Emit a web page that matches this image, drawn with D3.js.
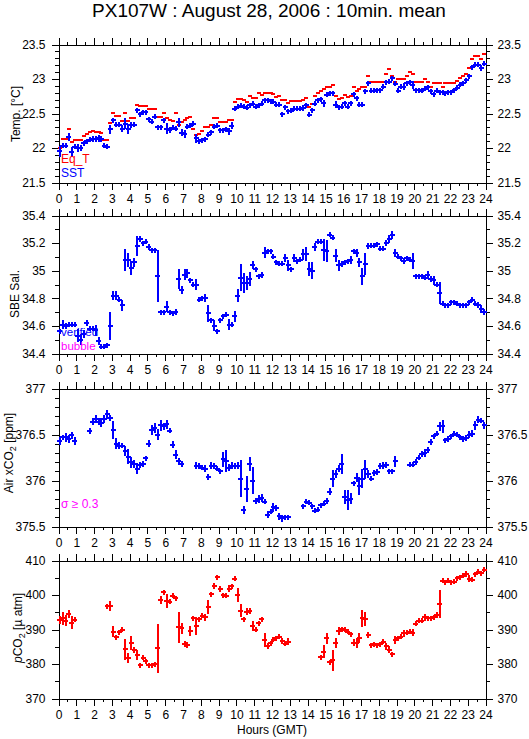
<!DOCTYPE html>
<html>
<head>
<meta charset="utf-8">
<script src="https://cdn.jsdelivr.net/npm/d3@7"></script>
<style>
body { margin: 0; background: #fff; }
text { font-family: "Liberation Sans", Arial, sans-serif; }
</style>
</head>
<body>
<div id="chart"></div>
<script>
// --> DATA: 10 minute means, 6 per hour (one row = one hour)
var hours = d3.range(0, 25);

var sst = [
 21.95,22.03,22.03,22.16,21.94,22.02, 22.00,22.00,22.07,22.10,22.12,22.13,
 22.13,22.14,22.13,22.03,22.02,22.27, 22.40,22.34,22.34,22.28,22.35,22.28,
 22.33,22.34,22.55,22.49,22.52,22.52, 22.42,22.38,22.45,22.30,22.30,22.40,
 22.28,22.26,22.29,22.28,22.37,22.22, 22.20,22.31,22.32,22.35,22.14,22.10,
 22.11,22.13,22.19,22.23,22.31,22.32, 22.26,22.26,22.27,22.24,22.32,22.57,
 22.60,22.61,22.60,22.58,22.62,22.64, 22.60,22.62,22.64,22.69,22.69,22.68,
 22.67,22.63,22.63,22.49,22.59,22.53, 22.54,22.57,22.57,22.57,22.58,22.62,
 22.48,22.55,22.64,22.69,22.71,22.65, 22.77,22.79,22.79,22.63,22.59,22.60,
 22.65,22.60,22.65,22.78,22.72,22.63, 22.63,22.82,22.94,22.83,22.83,22.84,
 22.84,22.89,22.95,22.96,23.01,22.93, 22.83,22.89,22.89,22.94,22.95,22.91,
 22.84,22.84,22.83,22.86,22.88,22.82, 22.78,22.83,22.81,22.81,22.79,22.81,
 22.81,22.84,22.87,22.92,22.94,22.98, 23.04,23.17,23.21,23.21,23.16,23.22
];
var sstErr = [
 .08,.03,.03,.06,.07,.03, .06,.05,.03,.03,.04,.05, .05,.05,.04,.02,.02,.06, .04,.02,.02,.05,.08,.07,
 .04,.03,.03,.02,.03,.02, .03,.03,.02,.02,.02,.03, .08,.04,.02,.03,.07,.05, .06,.03,.02,.02,.07,.02,
 .02,.03,.03,.02,.03,.02, .02,.02,.04,.05,.05,.04, .03,.02,.02,.03,.03,.03, .02,.02,.02,.02,.02,.02,
 .02,.02,.02,.03,.04,.03, .03,.03,.04,.04,.04,.03, .03,.03,.02,.02,.02,.05, .03,.02,.02,.05,.03,.02,
 .03,.02,.03,.02,.03,.03, .04,.04,.03,.02,.02,.02, .02,.02,.03,.03,.03,.03, .03,.04,.05,.03,.03,.06,
 .02,.02,.02,.02,.02,.02, .02,.03,.02,.02,.02,.02, .02,.02,.02,.02,.02,.02, .03,.03,.02,.02,.04,.03
];
var eqT = [
 22.00,22.13,22.13,22.27,22.08,22.12, 22.12,22.12,22.17,22.21,22.23,22.24,
 22.23,22.23,22.22,22.12,22.12,22.36, 22.51,22.46,22.46,22.39,22.51,22.39,
 22.44,22.43,22.63,22.61,22.61,22.61, 22.56,22.56,22.56,22.45,22.45,22.51,
 22.44,22.41,22.39,22.51,22.33,22.37, 22.41,22.43,22.45,22.27,22.19,22.20,
 22.24,22.30,22.30,22.34,22.43,22.43, 22.38,22.38,22.38,22.40,22.40,22.67,
 22.71,22.71,22.69,22.67,22.75,22.73, 22.72,22.79,22.77,22.80,22.80,22.80,
 22.78,22.74,22.76,22.70,22.70,22.65, 22.68,22.68,22.68,22.68,22.70,22.73,
 22.60,22.64,22.76,22.79,22.82,22.85, 22.88,22.88,22.91,22.76,22.71,22.72,
 22.77,22.74,22.75,22.88,22.82,22.85, 22.88,22.88,23.04,22.95,22.96,22.96,
 22.96,22.95,23.07,23.15,23.04,22.95, 23.00,23.00,23.00,23.04,23.10,23.07,
 22.95,22.95,22.96,23.00,22.95,22.88, 22.94,22.94,22.94,22.89,22.94,22.94,
 22.94,22.94,22.97,23.01,23.04,23.07, 23.16,23.29,23.34,23.34,23.29,23.36
];

var sal = [
 34.56,34.61,34.60,34.61,34.61,34.61, 34.53,34.50,34.54,34.62,34.58,34.58,
 34.57,34.49,34.45,34.45,34.46,34.60, 34.82,34.82,34.79,34.75,35.08,35.08,
 35.02,35.06,35.18,35.23,35.20,35.21, 35.17,35.15,35.15,34.96,34.70,34.70,
 34.74,34.70,34.69,34.70,34.94,34.86, 34.97,34.98,34.93,34.90,34.90,34.79,
 34.80,34.80,34.69,34.64,34.60,34.56, 34.64,34.67,34.68,34.61,34.61,34.67,
 34.82,34.95,34.91,34.91,34.94,35.04, 35.01,34.96,34.97,35.13,35.14,35.14,
 35.10,35.06,35.05,35.05,35.09,35.04, 35.01,35.09,35.07,35.08,35.12,35.12,
 35.01,35.00,35.17,35.21,35.21,35.15, 35.14,35.26,35.24,35.11,35.04,35.05,
 35.06,35.07,35.08,35.14,35.13,35.06, 34.96,35.05,35.18,35.18,35.18,35.19,
 35.16,35.16,35.20,35.23,35.26,35.13, 35.10,35.09,35.07,35.09,35.08,35.07,
 34.96,34.96,34.96,34.95,34.97,34.94, 34.93,34.90,34.84,34.76,34.75,34.75,
 34.77,34.77,34.76,34.75,34.75,34.75, 34.77,34.79,34.76,34.75,34.72,34.70
];
var salErr = [
 .02,.03,.02,.02,.02,.02, .05,.04,.03,.02,.02,.02, .04,.03,.02,.01,.01,.10, .03,.03,.01,.04,.08,.05,
 .05,.03,.07,.02,.01,.01, .02,.01,.01,.19,.01,.01, .04,.01,.01,.02,.07,.03, .04,.03,.01,.02,.04,.01,
 .01,.03,.06,.02,.04,.02, .01,.01,.01,.04,.01,.04, .05,.10,.07,.05,.05,.03, .02,.01,.02,.04,.01,.01,
 .01,.02,.01,.01,.03,.04, .01,.03,.01,.01,.04,.05, .05,.06,.03,.01,.01,.08, .08,.01,.02,.05,.04,.02,
 .01,.01,.03,.02,.03,.03, .06,.08,.02,.01,.01,.01, .01,.01,.02,.03,.03,.03, .01,.01,.02,.02,.02,.06,
 .01,.01,.01,.02,.03,.02, .03,.01,.08,.01,.01,.01, .01,.01,.01,.01,.01,.01, .02,.02,.01,.02,.03,.02
];

var airCO2 = [
 376.43,376.47,376.47,376.45,376.49,376.43, null,null,null,null,376.54,376.64,
 376.67,376.64,376.63,376.67,376.72,376.68, 376.55,376.40,376.38,376.38,376.32,376.26,
 376.20,376.18,376.13,376.17,376.18,376.24, 376.40,376.55,376.57,376.50,376.60,376.59,
 376.61,376.54,376.39,376.28,376.21,376.18, null,null,null,null,376.16,376.16,
 376.14,376.13,376.04,376.16,376.16,376.13, 376.10,376.23,376.21,376.14,376.16,376.16,
 376.16,376.02,375.68,375.91,376.18,376.00, 375.78,375.80,375.81,375.77,375.63,375.66,
 375.71,375.70,375.61,375.59,375.60,375.60, null,null,null,null,375.72,375.77,
 375.76,375.72,375.67,375.68,375.73,375.75, 375.78,375.88,376.02,376.07,376.13,376.18,
 375.82,375.79,375.80,375.97,376.03,375.94, 376.02,376.12,376.07,376.02,376.08,376.09,
 376.16,376.16,376.17,376.10,376.10,376.21, null,null,null,null,376.17,376.17,
 376.20,376.25,376.29,376.30,376.33,376.42, 376.48,376.51,376.59,376.59,376.44,376.45,
 376.48,376.51,376.50,376.47,376.45,376.46, 376.50,376.51,376.60,376.66,376.65,376.60
];
var airCO2Err = [
 .04,.03,.05,.04,.04,.04, 0,0,0,0,.03,.04, .04,.04,.05,.04,.05,.03, .10,.06,.04,.03,.05,.08,
 .06,.04,.06,.03,.03,.03, .04,.05,.05,.06,.06,.04, .05,.02,.04,.05,.04,.03, 0,0,0,0,.04,.03,
 .03,.04,.03,.04,.03,.03, .03,.08,.12,.04,.04,.03, .04,.20,.04,.14,.08,.15, .03,.04,.04,.03,.04,.02,
 .05,.03,.04,.04,.03,.03, 0,0,0,0,.03,.03, .03,.03,.02,.02,.03,.03, .03,.04,.09,.04,.04,.11,
 .08,.11,.06,.03,.05,.10, .10,.10,.04,.03,.03,.03, .03,.04,.03,.03,.03,.06, 0,0,0,0,.02,.02,
 .03,.03,.03,.04,.03,.03, .03,.03,.05,.07,.02,.03, .03,.02,.02,.03,.03,.03, .04,.04,.05,.04,.03,.04
];

var pCO2 = [
 392.8,393.2,392.6,394.5,392.0,392.8, null,null,null,null,null,null,
 null,null,null,null,396.8,396.8, 389.4,387.7,389.2,389.9,384.3,381.8,
 386.0,384.0,382.6,379.7,381.8,380.8, 379.7,379.7,379.9,384.5,398.6,400.8,
 398.3,398.1,399.8,399.1,390.6,390.3, 385.8,385.5,389.6,393.2,391.0,393.0,
 394.0,393.5,396.6,400.2,402.6,405.1, 401.7,400.0,399.8,401.8,402.6,404.7,
 400.0,395.5,393.0,395.2,395.4,391.0, 390.0,391.8,393.0,386.9,385.2,386.0,
 387.1,387.4,387.9,386.7,385.8,386.5, null,null,null,null,null,null,
 null,null,null,null,381.9,383.6, 387.4,380.5,381.1,386.0,389.6,390.1,
 389.9,389.4,388.6,386.2,386.0,387.6, 393.2,393.0,388.4,385.5,385.7,385.5,
 385.7,386.5,385.2,384.2,382.8,386.9, 387.4,387.9,388.9,389.1,389.4,389.1,
 391.6,392.5,392.5,393.5,393.2,393.2, 393.5,394.2,397.4,404.1,403.7,404.1,
 403.7,403.9,404.9,405.1,405.6,406.1, 404.7,404.4,406.0,406.8,406.3,407.3
];
var pCO2Err = [
 1.2,1.8,1.5,1.2,1.8,0.6, 0,0,0,0,0,0, 0,0,0,0,0.6,1.5, 1.5,0.8,0.4,0.6,3,1.5,
 2,0.8,1.5,0.4,0.4,0.4, 0.4,0.4,0.4,7,1.2,0.4, 2,0.8,0.5,0.6,4.5,1.5, 1,1,1.5,0.6,2.5,0.5,
 0.8,1,2,0.5,1,0.4, 0.8,0.5,0.4,1,0.4,0.6, 2,2,0.5,1,0.8,1.5, 0.4,0.4,0.4,2,0.8,0.6,
 0.4,0.4,0.4,0.8,0.4,1, 0,0,0,0,0,0, 0,0,0,0,0.4,2, 1.5,0.6,3,1.5,1.2,0.6,
 0.4,0.6,0.6,1,1.5,1.5, 2.5,2,1,0.4,0.4,0.4, 0.4,0.6,1,1,0.6,1.2, 0.6,0.6,1,0.4,0.4,1,
 0.6,0.4,0.4,1,0.6,0.6, 0.6,1,4,0.4,0.4,0.4, 0.4,0.4,0.6,0.6,0.4,1, 1,0.6,0.8,0.8,0.8,0.6
];

// --> SVG
var width = 529;
var height = 739;
var svg = d3.select("#chart").append("svg")
  .attr("width", width)
  .attr("height", height);

var x = d3.scaleLinear().domain([0, 24]).range([58.5, 485.5]);
function tx(i) { return x((i + 0.5) / 6); }

function steps(lo, hi, st) {
  var n = Math.round((hi - lo) / st);
  return d3.range(n + 1).map(function(k){ return +(lo + k * st).toFixed(3); });
}
function fmt(d) { return String(+d.toFixed(2)); }

var panels = [
  { top: 44.5,  domain: [21.5, 23.5], major: 0.5, minor: 0.1 },
  { top: 215.5, domain: [34.4, 35.4], major: 0.2, minor: 0.1 },
  { top: 388.5, domain: [375.5, 377], major: 0.5, minor: 0.1 },
  { top: 560.5, domain: [370, 410],   major: 10,  minor: 5 }
];
var ph = 138;

panels.forEach(function(p) {
  p.y = d3.scaleLinear().domain(p.domain).range([p.top + ph, p.top]);
  var g = svg.append("g");
  var majors = steps(p.domain[0], p.domain[1], p.major);
  var minors = steps(p.domain[0], p.domain[1], p.minor);

  // x axes
  g.append("g").attr("transform", "translate(0," + (p.top + ph) + ")")
    .call(d3.axisBottom(x).tickValues(steps(0, 24, 0.5)).tickSize(3).tickSizeOuter(0).tickFormat(""));
  g.append("g").attr("transform", "translate(0," + (p.top + ph) + ")")
    .call(d3.axisBottom(x).tickValues(hours).tickSize(7).tickSizeOuter(0).tickPadding(5).tickFormat(d3.format("d")));
  g.append("g").attr("transform", "translate(0," + p.top + ")")
    .call(d3.axisTop(x).tickValues(steps(0, 24, 0.5)).tickSize(3).tickSizeOuter(0).tickFormat(""));
  g.append("g").attr("transform", "translate(0," + p.top + ")")
    .call(d3.axisTop(x).tickValues(hours).tickSize(7).tickSizeOuter(0).tickFormat(""));

  // y axes
  g.append("g").attr("transform", "translate(" + x(0) + ",0)")
    .call(d3.axisLeft(p.y).tickValues(minors).tickSize(4).tickSizeOuter(0).tickFormat(""));
  g.append("g").attr("transform", "translate(" + x(0) + ",0)")
    .call(d3.axisLeft(p.y).tickValues(majors).tickSize(7).tickSizeOuter(0).tickPadding(6).tickFormat(fmt));
  g.append("g").attr("transform", "translate(" + x(24) + ",0)")
    .call(d3.axisRight(p.y).tickValues(minors).tickSize(4).tickSizeOuter(0).tickFormat(""));
  g.append("g").attr("transform", "translate(" + x(24) + ",0)")
    .call(d3.axisRight(p.y).tickValues(majors).tickSize(7).tickSizeOuter(0).tickPadding(5).tickFormat(fmt));

  g.selectAll("text").attr("font-size", 12).attr("font-family", '"Liberation Sans", Arial, sans-serif').attr("fill", "#000");
  g.selectAll("path, line").attr("stroke", "#000").attr("shape-rendering", "crispEdges");
});

// --> MARKS
function dashes(vals, y, color, hw) {
  var pts = vals.map(function(v, i){ return { i: i, v: v }; }).filter(function(d){ return d.v != null; });
  svg.append("g").selectAll("line").data(pts).enter().append("line")
    .attr("x1", function(d){ return tx(d.i) - hw; })
    .attr("x2", function(d){ return tx(d.i) + hw; })
    .attr("y1", function(d){ return Math.round(y(d.v)); })
    .attr("y2", function(d){ return Math.round(y(d.v)); })
    .attr("stroke", color).attr("stroke-width", 2)
    .attr("shape-rendering", "crispEdges");
}
function crosses(vals, errs, y, color) {
  dashes(vals, y, color, 2.5);
  var pts = vals.map(function(v, i){ return { i: i, v: v, e: errs[i] }; }).filter(function(d){ return d.v != null; });
  svg.append("g").selectAll("line").data(pts).enter().append("line")
    .attr("x1", function(d){ return tx(d.i); })
    .attr("x2", function(d){ return tx(d.i); })
    .attr("y1", function(d){ return Math.min(y(d.v + d.e), y(d.v) - 2.5); })
    .attr("y2", function(d){ return Math.max(y(d.v - d.e), y(d.v) + 2.5); })
    .attr("stroke", color).attr("stroke-width", 2)
    .attr("shape-rendering", "crispEdges");
}

dashes(eqT, panels[0].y, "#ff0000", 2);
crosses(sst, sstErr, panels[0].y, "#0000ff");
crosses(sal, salErr, panels[1].y, "#0000ff");
crosses(airCO2, airCO2Err, panels[2].y, "#0000ff");
crosses(pCO2, pCO2Err, panels[3].y, "#ff0000");

// --> TEXT
var font = '"Liberation Sans", Arial, sans-serif';
function label(tx_, ty, str, color, size) {
  return svg.append("text").attr("x", tx_).attr("y", ty).text(str)
    .attr("fill", color).attr("font-size", size || 12).attr("font-family", font);
}

label(269, 17, "PX107W : August 28, 2006 : 10min. mean", "#000", 19).attr("text-anchor", "middle");

label(61, 163, "Eq_T", "#ff0000");
label(61, 177, "SST", "#0000ff");
label(61, 336, "verified", "#0000ff", 11.5);
label(61, 349.5, "bubble", "#ff00ff", 11.5);
label(61, 508, "\u03c3 \u2265 0.3", "#ff00ff");

label(272, 734, "Hours (GMT)", "#000").attr("text-anchor", "middle");

// y titles
function ytitle(bx, cy, parts) {
  var t = svg.append("text").attr("transform", "translate(" + bx + "," + cy + ") rotate(-90)")
    .attr("text-anchor", "middle").attr("font-size", 12).attr("font-family", font).attr("fill", "#000");
  parts.forEach(function(p) {
    var s = t.append("tspan").text(p.t);
    if (p.sub) s.attr("font-size", 9).attr("dy", 3);
    if (p.up) s.attr("dy", -3);
    if (p.it) s.attr("font-style", "italic");
  });
}
ytitle(20, 114, [{ t: "Temp. [\u00b0C]" }]);
ytitle(19, 294, [{ t: "SBE Sal." }]);
ytitle(13, 453, [{ t: "Air xCO" }, { t: "2", sub: true }, { t: " [ppm]", up: true }]);
ytitle(22, 628, [{ t: "p", it: true }, { t: "CO" }, { t: "2", sub: true }, { t: " [\u00b5 atm]", up: true }]);
</script>
</body>
</html>
